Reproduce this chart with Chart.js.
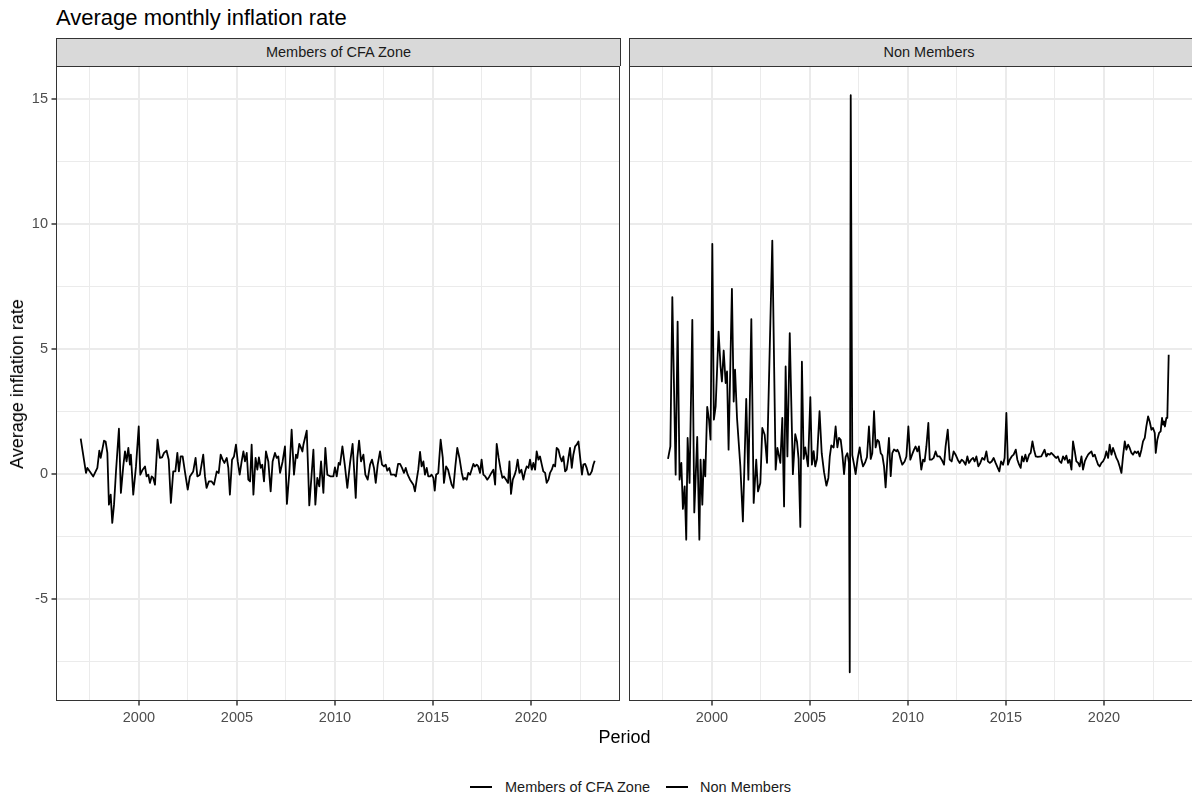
<!DOCTYPE html>
<html>
<head>
<meta charset="utf-8">
<script src="https://cdn.jsdelivr.net/npm/chart.js@4.4.1/dist/chart.umd.min.js"></script>
<style>
  html, body { margin:0; padding:0; background:#fff; width:1192px; height:796px; overflow:hidden; }
  body { position:relative; font-family:"Liberation Sans", Arial, Helvetica, sans-serif; }
  .abs { position:absolute; white-space:nowrap; }
  #title { left:56px; top:7px; font-size:22px; line-height:22px; color:#000; }
  .strip { position:absolute; top:38px; height:28px; box-sizing:border-box; background:#D9D9D9;
           border:1px solid #333; border-bottom:none; color:#1A1A1A; font-size:14.5px; line-height:27px; text-align:center; }
  canvas { position:absolute; }
  #xtitle { left:0; width:1249px; top:727px; text-align:center; font-size:18px; line-height:20px; color:#000; }
  #ytitle { left:17px; top:384px; font-size:18px; line-height:20px; color:#000; transform:translate(-50%,-50%) rotate(-90deg); }
  .legtext { top:779px; font-size:14.5px; line-height:16px; color:#1A1A1A; }
  .legkey { top:786px; height:2px; width:22px; background:#000; }
</style>
</head>
<body>
<div id="title" class="abs">Average monthly inflation rate</div>
<div id="strip0" class="strip" style="left:56px;width:565px;"></div>
<div id="strip1" class="strip" style="left:629px;width:600px;"></div>
<canvas id="c0" width="621" height="704" style="left:0;top:56px;"></canvas>
<canvas id="c1" width="565" height="704" style="left:629px;top:56px;"></canvas>
<div id="xtitle" class="abs">Period</div>
<div id="ytitle" class="abs">Average inflation rate</div>
<div class="abs legkey" style="left:470px;"></div>
<div id="leg0" class="abs legtext" style="left:505px;"></div>
<div class="abs legkey" style="left:666px;"></div>
<div id="leg1" class="abs legtext" style="left:700px;"></div>
<script>
const panelNames = ['Members of CFA Zone', 'Non Members'];

const cfaYears = [
1997.03,1997.13,1997.30,1997.37,1997.67,1997.88,1997.98,1998.05,1998.22,1998.30,1998.39,1998.47,1998.56,1998.64,1998.73,1998.83,
1998.98,1999.08,1999.20,1999.29,1999.37,1999.46,1999.54,1999.59,1999.71,1999.85,1999.99,2000.07,2000.19,2000.31,2000.39,2000.48,
2000.56,2000.65,2000.73,2000.82,2000.95,2001.07,2001.18,2001.28,2001.41,2001.52,2001.63,2001.75,2001.86,2001.96,2002.04,2002.13,
2002.23,2002.37,2002.49,2002.60,2002.77,2002.89,2002.98,2003.11,2003.28,2003.37,2003.45,2003.57,2003.71,2003.83,2003.97,2004.07,
2004.17,2004.27,2004.36,2004.48,2004.56,2004.64,2004.75,2004.85,2004.95,2005.04,2005.14,2005.24,2005.33,2005.41,2005.50,2005.58,
2005.67,2005.75,2005.84,2005.95,2006.04,2006.12,2006.21,2006.29,2006.38,2006.48,2006.60,2006.72,2006.82,2006.94,2007.03,2007.11,
2007.20,2007.33,2007.45,2007.55,2007.67,2007.79,2007.91,2008.01,2008.08,2008.18,2008.27,2008.34,2008.39,2008.56,2008.64,2008.69,
2008.79,2008.90,2009.00,2009.10,2009.20,2009.29,2009.41,2009.51,2009.61,2009.78,2009.92,2010.00,2010.09,2010.19,2010.26,2010.38,
2010.50,2010.63,2010.77,2010.90,2011.06,2011.14,2011.23,2011.33,2011.45,2011.55,2011.67,2011.79,2011.89,2011.99,2012.08,2012.18,
2012.30,2012.40,2012.50,2012.59,2012.67,2012.77,2012.86,2013.03,2013.11,2013.22,2013.32,2013.42,2013.52,2013.61,2013.71,2013.83,
2014.00,2014.08,2014.17,2014.25,2014.34,2014.42,2014.51,2014.59,2014.68,2014.76,2014.85,2014.93,2015.02,2015.09,2015.16,2015.27,
2015.39,2015.50,2015.56,2015.67,2015.77,2015.87,2015.95,2016.04,2016.14,2016.24,2016.35,2016.47,2016.55,2016.63,2016.72,2016.80,
2016.89,2016.97,2017.06,2017.14,2017.23,2017.31,2017.40,2017.48,2017.57,2017.67,2017.77,2017.88,2017.98,2018.08,2018.17,2018.25,
2018.35,2018.45,2018.54,2018.62,2018.73,2018.83,2018.90,2018.98,2019.07,2019.17,2019.24,2019.32,2019.41,2019.51,2019.61,2019.70,
2019.78,2019.87,2019.95,2020.04,2020.12,2020.21,2020.29,2020.38,2020.46,2020.55,2020.63,2020.72,2020.80,2020.89,2020.97,2021.06,
2021.14,2021.23,2021.31,2021.40,2021.48,2021.57,2021.65,2021.74,2021.82,2021.91,2021.99,2022.08,2022.16,2022.25,2022.33,2022.42,
2022.50,2022.60,2022.67,2022.76,2022.84,2022.93,2023.01,2023.10,2023.18,2023.25
];
const cfaValues = [
1.40,0.89,0.03,0.23,-0.11,0.23,0.92,0.63,1.32,1.29,0.83,-1.24,-0.84,-1.97,-1.24,0.09,
1.80,-0.77,0.29,0.89,0.49,1.03,0.36,0.76,-0.84,0.29,1.89,-0.04,0.16,0.29,-0.11,-0.04,
-0.37,-0.11,-0.17,-0.44,1.36,0.63,0.65,0.83,0.92,0.56,-1.17,0.09,0.09,0.83,0.09,0.69,
0.69,-0.04,-0.64,-0.11,0.09,0.63,-0.11,-0.04,0.76,-0.11,-0.57,-0.31,-0.31,-0.44,0.09,0.03,
0.76,0.56,0.43,0.63,0.23,-0.84,0.56,0.69,1.16,0.49,-0.04,0.49,0.89,0.49,0.83,-0.24,
-0.31,1.16,-0.84,0.63,0.16,0.65,0.23,0.36,-0.31,0.89,0.49,-0.71,0.49,0.83,0.63,0.69,
0.03,0.49,1.09,-1.21,0.03,1.76,-0.04,0.76,0.63,1.19,1.03,0.89,1.16,1.72,-0.04,-1.27,
-0.24,0.96,-1.24,-0.17,-0.51,0.49,-0.77,1.03,-0.04,-0.11,-0.11,0.25,-0.11,0.43,0.36,1.09,
0.36,-0.57,0.43,1.19,-0.97,0.63,1.32,0.49,0.76,-0.04,-0.24,0.36,0.56,0.23,-0.37,0.36,
0.89,0.36,0.29,0.36,0.12,0.23,-0.04,-0.04,-0.11,0.39,0.39,0.23,0.03,0.23,-0.04,-0.24,
-0.44,-0.71,-0.24,0.16,0.87,0.29,0.49,-0.04,0.23,-0.11,-0.11,-0.04,-0.17,-0.68,-0.04,0.03,
1.36,0.63,-0.37,0.29,0.16,-0.17,-0.44,-0.57,0.29,1.03,0.63,0.03,-0.24,-0.17,-0.24,0.03,
-0.04,0.16,0.39,0.29,0.36,0.29,0.03,0.56,-0.04,-0.11,-0.24,-0.11,0.03,0.16,-0.44,1.19,
0.63,0.16,-0.17,-0.11,-0.24,-0.37,0.49,-0.81,-0.24,-0.04,0.16,0.56,0.03,0.16,-0.24,0.09,
0.29,0.23,0.56,0.16,0.43,0.16,0.89,0.56,0.69,0.36,0.09,0.03,-0.37,-0.24,0.03,0.16,
0.36,0.29,1.03,0.96,0.69,0.49,0.69,0.09,0.16,0.63,1.03,0.23,0.76,1.09,1.16,1.29,
0.69,-0.04,0.36,0.39,0.23,-0.04,-0.04,0.09,0.36,0.52
];

const nonYears = [
1997.76,1997.88,1997.98,1998.15,1998.25,1998.35,1998.44,1998.52,1998.61,1998.69,1998.76,1998.86,1999.00,1999.10,1999.25,1999.36,
1999.42,1999.51,1999.58,1999.66,1999.76,1999.85,1999.93,2000.02,2000.10,2000.19,2000.34,2000.44,2000.51,2000.60,2000.70,2000.77,
2000.85,2001.02,2001.11,2001.18,2001.28,2001.45,2001.58,2001.75,2001.86,2002.01,2002.13,2002.26,2002.35,2002.47,2002.57,2002.69,
2002.81,2003.08,2003.25,2003.34,2003.49,2003.59,2003.68,2003.76,2003.85,2003.97,2004.13,2004.25,2004.34,2004.42,2004.51,2004.59,
2004.68,2004.76,2004.90,2005.02,2005.10,2005.19,2005.27,2005.36,2005.49,2005.60,2005.72,2005.84,2005.94,2006.01,2006.09,2006.21,
2006.31,2006.40,2006.48,2006.57,2006.65,2006.74,2006.82,2006.91,2006.99,2007.03,2007.08,2007.16,2007.25,2007.33,2007.43,2007.54,
2007.62,2007.71,2007.81,2007.91,2008.01,2008.10,2008.18,2008.27,2008.35,2008.44,2008.52,2008.61,2008.69,2008.78,2008.86,2008.95,
2009.03,2009.12,2009.20,2009.29,2009.41,2009.46,2009.54,2009.63,2009.71,2009.83,2009.92,2010.02,2010.12,2010.21,2010.31,2010.39,
2010.48,2010.56,2010.68,2010.77,2010.85,2010.94,2011.04,2011.11,2011.21,2011.31,2011.41,2011.50,2011.62,2011.72,2011.84,2011.92,
2012.03,2012.13,2012.23,2012.33,2012.43,2012.54,2012.64,2012.74,2012.84,2012.94,2013.03,2013.11,2013.22,2013.32,2013.40,2013.49,
2013.59,2013.69,2013.79,2013.90,2014.00,2014.08,2014.17,2014.27,2014.37,2014.47,2014.58,2014.66,2014.75,2014.85,2014.93,2015.02,
2015.10,2015.19,2015.29,2015.39,2015.50,2015.58,2015.67,2015.75,2015.82,2015.90,2015.99,2016.07,2016.18,2016.26,2016.35,2016.43,
2016.52,2016.62,2016.80,2016.89,2016.97,2017.06,2017.14,2017.23,2017.31,2017.40,2017.48,2017.57,2017.65,2017.74,2017.82,2017.91,
2018.00,2018.08,2018.17,2018.25,2018.34,2018.42,2018.51,2018.59,2018.68,2018.76,2018.85,2018.93,2019.02,2019.10,2019.19,2019.27,
2019.36,2019.44,2019.53,2019.61,2019.70,2019.78,2019.87,2019.95,2020.04,2020.12,2020.21,2020.29,2020.38,2020.46,2020.55,2020.63,
2020.72,2020.80,2020.89,2020.97,2021.06,2021.14,2021.23,2021.31,2021.40,2021.48,2021.57,2021.65,2021.74,2021.82,2021.91,2021.99,
2022.08,2022.16,2022.25,2022.33,2022.42,2022.50,2022.59,2022.64,2022.72,2022.81,2022.89,2022.96,2023.01,2023.06,2023.11,2023.18,
2023.23,2023.30
];
const nonValues = [
0.59,1.09,7.07,-0.04,6.09,-0.24,0.43,-1.41,-0.51,-2.64,1.43,-0.37,6.16,-1.55,1.47,-2.64,
0.56,-1.24,0.56,-0.11,2.67,2.16,1.36,9.20,2.16,2.69,5.69,4.29,3.69,4.93,3.63,4.09,
0.96,7.40,2.89,4.16,2.23,0.29,-1.91,2.99,-0.24,6.19,-1.17,0.56,-0.71,-0.37,1.83,1.56,
0.43,9.33,0.16,1.03,0.43,2.23,-1.31,4.29,0.69,5.63,-0.02,1.58,1.28,0.59,-2.13,4.48,
0.59,1.05,0.29,3.06,0.36,0.90,0.29,0.59,2.50,0.82,0.06,-0.48,-0.17,0.67,1.13,1.05,
1.89,1.05,1.43,1.35,0.82,-0.02,0.67,0.82,0.44,-7.95,15.15,0.74,0.36,-0.02,0.59,1.05,
0.59,0.29,0.44,0.67,1.89,0.59,0.82,2.50,1.05,1.35,1.28,0.82,0.74,0.29,-0.55,0.59,
1.43,-0.10,0.82,0.97,0.90,0.96,0.83,0.56,0.36,0.49,0.69,1.89,0.56,0.76,0.96,1.09,
0.89,1.09,0.16,0.56,0.49,1.09,2.03,0.56,0.56,0.63,0.89,0.69,0.69,0.56,0.36,1.09,
1.76,0.56,0.49,0.89,0.76,0.56,0.43,0.56,0.49,0.36,0.69,0.43,0.56,0.63,0.49,0.69,
0.29,0.43,0.63,0.56,0.89,0.49,0.43,0.49,0.63,0.43,0.23,0.09,0.49,0.36,0.63,2.43,
0.36,0.56,0.69,0.76,0.96,0.56,0.36,0.23,0.69,0.49,0.76,0.49,0.76,0.83,1.29,0.96,
0.69,0.67,0.69,0.83,0.96,0.69,0.80,0.76,0.83,0.76,0.69,0.63,0.69,0.49,0.43,0.69,
0.56,0.72,0.43,0.56,0.16,1.29,0.89,0.49,0.43,0.29,0.69,0.16,0.49,0.63,0.76,0.83,
0.89,0.69,0.76,0.56,0.36,0.29,0.43,0.49,0.63,0.89,0.63,1.16,0.76,1.03,0.83,0.63,
0.49,0.29,0.03,0.69,1.29,0.96,1.16,1.03,0.83,0.76,0.89,0.83,0.89,0.69,0.96,1.29,
1.43,1.89,2.29,2.09,1.76,1.83,1.63,0.83,1.36,1.63,1.69,2.23,1.96,2.09,1.89,2.23,
2.23,4.76
];

const xMajorTicks = [2000, 2005, 2010, 2015, 2020];
const xMinorTicks = [1997.5, 2002.5, 2007.5, 2012.5, 2017.5, 2022.5];
const yMajorTicks = [-5, 0, 5, 10, 15];
const yMinorTicks = [-7.5, -2.5, 2.5, 7.5, 12.5];
const X_MIN = 1995.77, X_MAX = 2024.54;
const Y_MIN = -9.1, Y_MAX = 16.32;

document.getElementById('strip0').textContent = panelNames[0];
document.getElementById('strip1').textContent = panelNames[1];
document.getElementById('leg0').textContent = panelNames[0];
document.getElementById('leg1').textContent = panelNames[1];

const isMajor = v => Math.abs(v - Math.round(v / 5) * 5) < 1e-6;
const FONT = { family: '"Liberation Sans", Arial, sans-serif', size: 14.5 };

const panelBorder = {
  id: 'panelBorder',
  afterDraw(chart) {
    const { ctx, chartArea: a } = chart;
    ctx.save();
    ctx.strokeStyle = '#333333';
    ctx.lineWidth = 1;
    ctx.strokeRect(a.left + 0.5, a.top + 0.5, a.right - a.left - 1, a.bottom - a.top - 1);
    ctx.restore();
  }
};

function makeChart(id, label, years, values, showYAxis) {
  const data = years.map((x, i) => ({ x: x, y: values[i] }));
  return new Chart(document.getElementById(id), {
    type: 'line',
    data: { datasets: [{ label: label, data: data, borderColor: '#000', borderWidth: 1.8,
                         pointRadius: 0, tension: 0, borderJoinStyle: 'round', fill: false }] },
    options: {
      responsive: false, animation: false, devicePixelRatio: 1,
      layout: { padding: { top: 10, right: 1, left: 0, bottom: 0 } },
      plugins: { legend: { display: false }, tooltip: { enabled: false } },
      scales: {
        x: {
          type: 'linear', min: X_MIN, max: X_MAX, position: 'bottom',
          afterBuildTicks: s => { s.ticks = xMinorTicks.concat(xMajorTicks).sort((a, b) => a - b).map(v => ({ value: v })); },
          ticks: { autoSkip: false, maxRotation: 0, minRotation: 0, padding: 4, color: '#4D4D4D', font: FONT,
                   callback: v => isMajor(v) ? String(v) : '' },
          grid: { color: '#EBEBEB', lineWidth: c => (c.tick && isMajor(c.tick.value)) ? 2 : 1,
                  tickLength: 4.5, tickWidth: 1.5,
                  tickColor: c => (c.tick && isMajor(c.tick.value)) ? '#333333' : 'rgba(0,0,0,0)' },
          border: { display: false },
          afterFit: s => { s.height = 59; s.paddingLeft = 0; s.paddingRight = 0; }
        },
        y: {
          type: 'linear', min: Y_MIN, max: Y_MAX, position: 'left',
          afterBuildTicks: s => { s.ticks = yMinorTicks.concat(yMajorTicks).sort((a, b) => a - b).map(v => ({ value: v })); },
          ticks: { display: showYAxis, autoSkip: false, padding: 3.5, color: '#4D4D4D', font: FONT,
                   callback: v => isMajor(v) ? String(v) : '' },
          grid: { color: '#EBEBEB', lineWidth: c => (c.tick && isMajor(c.tick.value)) ? 2 : 1,
                  drawTicks: showYAxis, tickLength: showYAxis ? 4.5 : 0, tickWidth: 1.5,
                  tickColor: c => (c.tick && isMajor(c.tick.value)) ? '#333333' : 'rgba(0,0,0,0)' },
          border: { display: false },
          afterFit: s => { s.width = showYAxis ? 56 : 0; s.paddingTop = 0; s.paddingBottom = 0; }
        }
      }
    },
    plugins: [panelBorder]
  });
}

makeChart('c0', panelNames[0], cfaYears, cfaValues, true);
makeChart('c1', panelNames[1], nonYears, nonValues, false);
</script>
</body>
</html>
